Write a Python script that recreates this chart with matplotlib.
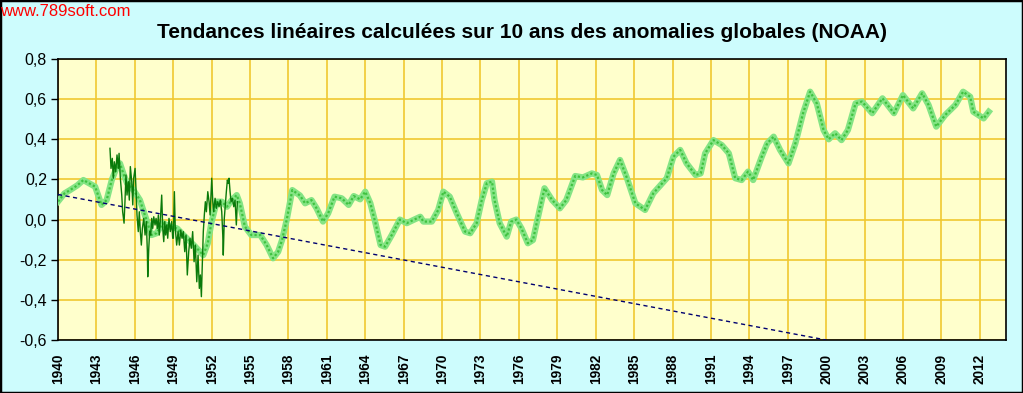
import numpy as np
import matplotlib
matplotlib.use("Agg")
import matplotlib.pyplot as plt
from matplotlib.patches import Rectangle

plt.rcParams["font.family"] = ["Liberation Sans", "DejaVu Sans"]

# 12-month smoothed anomaly (thick light green)
smooth_years = [
    1940.0, 1940.5, 1940.94, 1941.5, 1941.98, 1942.9, 1943.4, 1943.8, 1944.2, 1944.6,
    1944.84, 1945.1, 1945.4, 1945.9, 1946.4, 1946.9, 1947.3, 1947.7, 1948.2, 1948.75,
    1949.3, 1949.8, 1950.6, 1951.35, 1951.7, 1952.0, 1952.4, 1952.8, 1953.2, 1953.57,
    1953.96, 1954.2, 1954.6, 1955.1, 1955.8, 1956.3, 1956.8, 1957.2, 1957.5, 1957.87,
    1958.3, 1958.9, 1959.3, 1959.8, 1960.2, 1960.7, 1961.1, 1961.6, 1962.16, 1962.7,
    1963.1, 1963.6, 1964.0, 1964.4, 1964.8, 1965.2, 1965.55, 1966.07, 1966.7, 1967.24,
    1967.76, 1968.3, 1968.54, 1969.2, 1969.7, 1970.1, 1970.6, 1971.15, 1971.8, 1972.2,
    1972.7, 1973.1, 1973.5, 1973.9, 1974.1, 1974.5, 1975.05, 1975.4, 1975.8, 1976.2,
    1976.7, 1977.1, 1977.5, 1978.0, 1978.6, 1979.2, 1979.7, 1980.4, 1981.0, 1981.7,
    1982.1, 1982.5, 1982.9, 1983.4, 1983.9, 1984.4, 1985.1, 1985.86, 1986.5, 1987.55,
    1988.07, 1988.6, 1989.1, 1989.8, 1990.2, 1990.55, 1991.2, 1991.85, 1992.4, 1992.9,
    1993.4, 1993.9, 1994.3, 1994.97, 1995.4, 1995.9, 1996.4, 1997.06, 1997.6, 1998.2,
    1998.75, 1999.27, 1999.8, 2000.2, 2000.7, 2001.2, 2001.7, 2002.3, 2002.8, 2003.6,
    2004.4, 2005.3, 2006.0, 2006.8, 2007.5, 2008.0, 2008.6, 2009.3, 2010.1, 2010.7,
    2011.25, 2011.5, 2012.3, 2012.7,
]
smooth_vals = [
    0.09, 0.13, 0.147, 0.17, 0.197, 0.164, 0.073, 0.097, 0.197, 0.263,
    0.28, 0.23, 0.18, 0.147, 0.097, 0.0, -0.077, -0.068, -0.018, -0.035,
    -0.044, -0.077, -0.127, -0.177, -0.118, -0.01, 0.089, 0.089, 0.064, 0.097,
    0.122, 0.081, -0.035, -0.077, -0.077, -0.127, -0.193, -0.16, -0.102, 0.0,
    0.147, 0.12, 0.081, 0.097, 0.056, -0.01, 0.031, 0.114, 0.106, 0.073,
    0.117, 0.101, 0.139, 0.081, -0.018, -0.127, -0.135, -0.077, 0.0, -0.018,
    -0.002, 0.014, -0.01, -0.01, 0.048, 0.139, 0.114, 0.031, -0.06, -0.068,
    -0.018, 0.097, 0.181, 0.189, 0.097, -0.018, -0.085, -0.01, 0.0, -0.044,
    -0.118, -0.102, 0.014, 0.156, 0.097, 0.056, 0.097, 0.217, 0.21, 0.23,
    0.222, 0.147, 0.122, 0.23, 0.297, 0.214, 0.081, 0.048, 0.131, 0.206,
    0.313, 0.347, 0.28, 0.222, 0.23, 0.33, 0.396, 0.371, 0.33, 0.206,
    0.197, 0.239, 0.197, 0.313, 0.38, 0.413, 0.347, 0.28, 0.38, 0.53,
    0.637, 0.579, 0.446, 0.40, 0.43, 0.396, 0.446, 0.579, 0.588, 0.53,
    0.604, 0.53, 0.62, 0.554, 0.629, 0.571, 0.463, 0.521, 0.571, 0.637,
    0.612, 0.537, 0.504, 0.537,
]

# noisy monthly series (dark green), 1944-1954
noisy_years = [
    1944.06, 1944.14, 1944.24, 1944.32, 1944.40, 1944.51, 1944.61, 1944.71, 1944.77, 1944.87,
    1944.98, 1945.05, 1945.16, 1945.23, 1945.31, 1945.39, 1945.49, 1945.57, 1945.65, 1945.76,
    1945.84, 1945.91, 1946.02, 1946.09, 1946.17, 1946.27, 1946.35, 1946.43, 1946.51, 1946.59,
    1946.70, 1946.80, 1946.90, 1946.98, 1947.01, 1947.09, 1947.16, 1947.24, 1947.32, 1947.40,
    1947.48, 1947.58, 1947.66, 1947.76, 1947.84, 1947.91, 1947.99, 1948.10, 1948.18, 1948.26,
    1948.34, 1948.41, 1948.49, 1948.57, 1948.67, 1948.77, 1948.88, 1948.96, 1949.01, 1949.09,
    1949.16, 1949.27, 1949.38, 1949.48, 1949.59, 1949.69, 1949.79, 1949.90, 1950.00, 1950.10,
    1950.21, 1950.31, 1950.41, 1950.52, 1950.63, 1950.73, 1950.84, 1950.94, 1951.04, 1951.12,
    1951.20, 1951.27, 1951.35, 1951.43, 1951.51, 1951.59, 1951.70, 1951.80, 1951.88, 1951.95,
    1952.01, 1952.09, 1952.16, 1952.27, 1952.37, 1952.48, 1952.58, 1952.68, 1952.79, 1952.87,
    1952.91, 1952.99, 1953.07, 1953.15, 1953.23, 1953.30, 1953.36, 1953.44, 1953.52, 1953.62,
    1953.73, 1953.83, 1953.93, 1954.01,
]
noisy_vals = [
    0.355, 0.255, 0.305, 0.206, 0.288, 0.239, 0.322, 0.255, 0.33, 0.206,
    0.122, 0.039, -0.018, 0.089, 0.222, 0.122, 0.189, 0.097, 0.264, 0.189,
    0.073, 0.206, 0.255, 0.156, 0.023, -0.06, 0.039, -0.06, -0.127, -0.044,
    0.006, -0.077, -0.01, -0.16, -0.285, -0.143, -0.06, -0.077, 0.006, -0.044,
    0.014, -0.027, 0.006, -0.044, 0.023, -0.077, -0.01, 0.122, -0.044, -0.11,
    -0.01, -0.077, -0.027, -0.093, 0.006, -0.06, -0.01, -0.093, -0.093, 0.139,
    -0.044, -0.127, -0.06, -0.127, -0.052, -0.093, -0.06, -0.16, -0.077, -0.276,
    -0.16, -0.093, -0.143, -0.06, -0.21, -0.127, -0.31, -0.177, -0.343, -0.276,
    -0.384, -0.226, -0.06, 0.023, 0.089, 0.039, 0.139, 0.089, 0.023, 0.122,
    0.206, 0.089, 0.039, 0.106, 0.056, 0.089, 0.064, 0.097, 0.039, -0.077,
    -0.177, 0.006, 0.073, 0.139, 0.197, 0.18, 0.206, 0.139, 0.089, 0.106,
    0.064, 0.097, -0.027, 0.089,
]

# straight dotted trend (dark blue)
trend_years = [1940.0, 2000.0]
trend_vals = [0.125, -0.60]

tick_years = list(range(1940, 2013, 3))
y_ticks = [-0.6, -0.4, -0.2, 0.0, 0.2, 0.4, 0.6, 0.8]

fig = plt.figure(figsize=(10.23, 3.93), dpi=100)
fig.patch.set_facecolor("#cdfcfd")
fig.patches.append(Rectangle((0.0, 0.0), 1.0, 1.0, transform=fig.transFigure,
                             fill=False, edgecolor="black", linewidth=2.5))

ax = fig.add_axes([58 / 1023, 1 - 340 / 393, 948 / 1023, 281 / 393])
ax.set_facecolor("#ffffcc")

ax.plot(smooth_years, smooth_vals, color="#85e485", lw=4.5, solid_joinstyle="round",
        zorder=3)
ax.plot(smooth_years, smooth_vals, color="#3fc23f", lw=1.6, ls=(0, (1, 1)), zorder=3)
ax.plot(noisy_years, noisy_vals, color="#0a7a0a", lw=1.0, zorder=4)
ax.plot(trend_years, trend_vals, color="#000070", lw=1.0, ls=(0, (3, 2.5)), zorder=5)

ax.set_xlim(1940, 2014.05)
ax.set_ylim(-0.6, 0.8)
ax.set_xticks(tick_years)
ax.set_xticklabels([str(y) for y in tick_years], rotation=90, fontweight="bold",
                   fontsize=9.8)
ax.set_yticks(y_ticks)
ax.set_yticklabels([f"{v:.1f}".replace(".", ",") for v in y_ticks], fontsize=11.5)
ax.tick_params(axis="x", length=0, pad=10)
ax.tick_params(axis="y", length=5, width=1, pad=3, direction="out")
ax.grid(True, color="#f0c830", lw=1.2, zorder=1)
ax.set_axisbelow(True)
for s in ax.spines.values():
    s.set_color("black")
    s.set_linewidth(1.2)

fig.text(522 / 1023, 1 - 32 / 393, "Tendances linéaires calculées sur 10 ans des anomalies globales (NOAA)",
         ha="center", va="center", fontsize=15, fontweight="bold")
fig.text(0, 1 - 12 / 393, "www.789soft.com", ha="left", va="center",
         fontsize=12, color="#ff0000")

fig.savefig("out.png", dpi=100, facecolor=fig.get_facecolor())
